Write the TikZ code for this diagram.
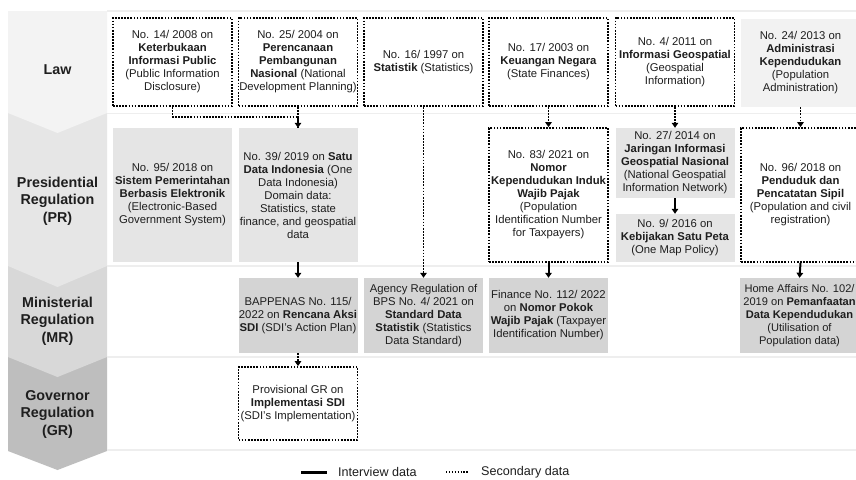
\documentclass[tikz,border=0pt]{standalone}
\usepackage{fontspec}
\setmainfont{Liberation Sans}
\usetikzlibrary{arrows.meta}
\definecolor{txt}{HTML}{1E1E1E}
\definecolor{bandlaw}{HTML}{F3F3F3}
\definecolor{bandpr}{HTML}{E6E6E6}
\definecolor{bandmr}{HTML}{D8D8D8}
\definecolor{bandgr}{HTML}{BEBEBE}
\definecolor{boxlaw}{HTML}{F2F2F2}
\definecolor{boxpr}{HTML}{E5E5E5}
\definecolor{boxmr}{HTML}{D4D4D4}
\definecolor{sepcol}{HTML}{EEEEEE}
\tikzset{
  basebox/.style={minimum width=119pt, inner sep=0pt, align=center, text=txt,
    font=\fontsize{11.3}{13}\selectfont},
  dotbox/.style={basebox, draw=black, line width=1.8pt, dash pattern=on 1.7pt off 1.4pt},
  lawfill/.style={basebox, fill=boxlaw},
  prfill/.style={basebox, fill=boxpr},
  mrfill/.style={basebox, fill=boxmr},
  sidelabel/.style={align=center, text=txt, font=\fontsize{14.3}{17.5}\selectfont\bfseries},
  seprule/.style={draw=sepcol, line width=1.2pt},
  dotline/.style={draw=black, line width=1.8pt, dash pattern=on 1.7pt off 1.4pt},
  dotarrow/.style={dotline, -{Triangle[length=5pt,width=6.5pt]}},
  solidarrow/.style={draw=black, line width=2pt, -{Triangle[length=5pt,width=6.5pt]}},
  legendtext/.style={anchor=west, inner sep=0pt, text=txt, font=\fontsize{12.6}{14}\selectfont},
}
\begin{document}
\begin{tikzpicture}[x=1pt,y=-1pt]
\clip (0,0) rectangle (856,479);
\fill[white] (0,0) rectangle (856,479);

% chevron column
\fill[bandgr]  (8,357) -- (107,357) -- (107,451) -- (57.5,470) -- (8,451) -- cycle;
\fill[bandmr]  (8,266) -- (107,266) -- (107,357) -- (57.5,377) -- (8,357) -- cycle;
\fill[bandpr]  (8,113) -- (107,113) -- (107,266) -- (57.5,287) -- (8,266) -- cycle;
\fill[bandlaw] (8,11)  -- (107,11)  -- (107,113) -- (57.5,133) -- (8,113) -- cycle;

\node[sidelabel] (sLaw) at (57.5,70) {Law};
\node[sidelabel] (sPR) at (57.5,201) {Presidential\\Regulation\\(PR)};
\node[sidelabel] (sMR) at (57.5,321) {Ministerial\\Regulation\\(MR)};
\node[sidelabel] (sGR) at (57.5,414) {Governor\\Regulation\\(GR)};

% separator rules
\draw[seprule] (107,11) -- (856,11);
\draw[seprule] (107,113.5) -- (856,113.5);
\draw[seprule] (107,266) -- (856,266);
\draw[seprule] (107,357) -- (856,357);
\draw[seprule] (107,450) -- (856,450);

% Law row
\node[dotbox, minimum height=88pt] (law1) at (172.5,62) {No. 14/ 2008 on\\\textbf{Keterbukaan}\\\textbf{Informasi Public}\\(Public Information\\Disclosure)};
\node[dotbox, minimum height=88pt] (law2) at (298,62) {No. 25/ 2004 on\\\textbf{Perencanaan}\\\textbf{Pembangunan}\\\textbf{Nasional} (National\\Development Planning)};
\node[dotbox, minimum height=88pt] (law3) at (423.5,62) {No. 16/ 1997 on\\\textbf{Statistik} (Statistics)};
\node[dotbox, minimum height=88pt] (law4) at (548.5,62) {No. 17/ 2003 on\\\textbf{Keuangan Negara}\\(State Finances)};
\node[dotbox, minimum height=88pt] (law5) at (675,62) {No. 4/ 2011 on\\\textbf{Informasi Geospatial}\\(Geospatial\\Information)};
\node[lawfill, minimum height=88pt] (law6) at (800.5,63) {No. 24/ 2013 on\\\textbf{Administrasi}\\\textbf{Kependudukan}\\(Population\\Administration)};

% PR row
\node[prfill, minimum height=134pt] (pr1) at (172.5,195) {No. 95/ 2018 on\\\textbf{Sistem Pemerintahan}\\\textbf{Berbasis Elektronik}\\(Electronic-Based\\Government System)};
\node[prfill, minimum height=134pt] (pr2) at (298,195) {No. 39/ 2019 on \textbf{Satu}\\\textbf{Data Indonesia} (One\\Data Indonesia)\\Domain data:\\Statistics, state\\finance, and geospatial\\data};
\node[dotbox, minimum height=134pt] (pr4) at (548.5,195) {No. 83/ 2021 on\\\textbf{Nomor}\\\textbf{Kependudukan Induk}\\\textbf{Wajib Pajak}\\(Population\\Identification Number\\for Taxpayers)};
\node[prfill, minimum height=70pt] (pr5a) at (675,163) {No. 27/ 2014 on\\\textbf{Jaringan Informasi}\\\textbf{Geospatial Nasional}\\(National Geospatial\\Information Network)};
\node[prfill, minimum height=48pt] (pr5b) at (675,238) {No. 9/ 2016 on\\\textbf{Kebijakan Satu Peta}\\(One Map Policy)};
\node[dotbox, minimum height=134pt] (pr6) at (800.5,195) {No. 96/ 2018 on\\\textbf{Penduduk dan}\\\textbf{Pencatatan Sipil}\\(Population and civil\\registration)};

% MR row
\node[mrfill, minimum height=75pt] (mr2) at (298,315.5) {BAPPENAS No. 115/\\2022 on \textbf{Rencana Aksi}\\\textbf{SDI} (SDI's Action Plan)};
\node[mrfill, minimum height=75pt] (mr3) at (423.5,315.5) {Agency Regulation of\\BPS No. 4/ 2021 on\\\textbf{Standard Data}\\\textbf{Statistik} (Statistics\\Data Standard)};
\node[mrfill, minimum height=75pt] (mr4) at (548.5,315.5) {Finance No. 112/ 2022\\on \textbf{Nomor Pokok}\\\textbf{Wajib Pajak} (Taxpayer\\Identification Number)};
\node[mrfill, minimum height=75pt, font=\fontsize{11.1}{13}\selectfont] (mr6) at (799.5,315.5) {Home Affairs No. 102/\\2019 on \textbf{Pemanfaatan}\\\textbf{Data Kependudukan}\\(Utilisation of\\Population data)};

% GR row
\node[dotbox, minimum height=73pt] (gr2) at (298,403.5) {Provisional GR on\\\textbf{Implementasi SDI}\\(SDI's Implementation)};

% connectors
\draw[dotline] (law1.south) -- ++(0,10) -| (pr2.north);
\draw[dotarrow] (law2.south) -- (pr2.north);
\draw[dotarrow] (law3.south) -- (mr3.north);
\draw[dotarrow] (law4.south) -- (pr4.north);
\draw[dotarrow] (law5.south) -- (pr5a.north);
\draw[dotarrow] (law6.south) -- (pr6.north);
\draw[solidarrow] (pr2.south) -- (mr2.north);
\draw[solidarrow] (pr5a.south) -- (pr5b.north);
\draw[solidarrow] (pr4.south) -- (mr4.north);
\draw[solidarrow] (pr6.south) -- (mr6.north);
\draw[dotarrow] (mr2.south) -- (gr2.north);

% legend
\coordinate (lgA1) at (301,472);
\coordinate (lgA2) at (327,472);
\coordinate (lgB1) at (446,472);
\coordinate (lgB2) at (469,472);
\draw[black, line width=3pt] (lgA1) -- (lgA2);
\node[legendtext] (lgAtext) at (338,472) {Interview data};
\draw[black, line width=1.3pt, dash pattern=on 1.3pt off 1.6pt] (lgB1) -- (lgB2);
\node[legendtext] (lgBtext) at (481,472) {Secondary data};
\end{tikzpicture}
\end{document}
